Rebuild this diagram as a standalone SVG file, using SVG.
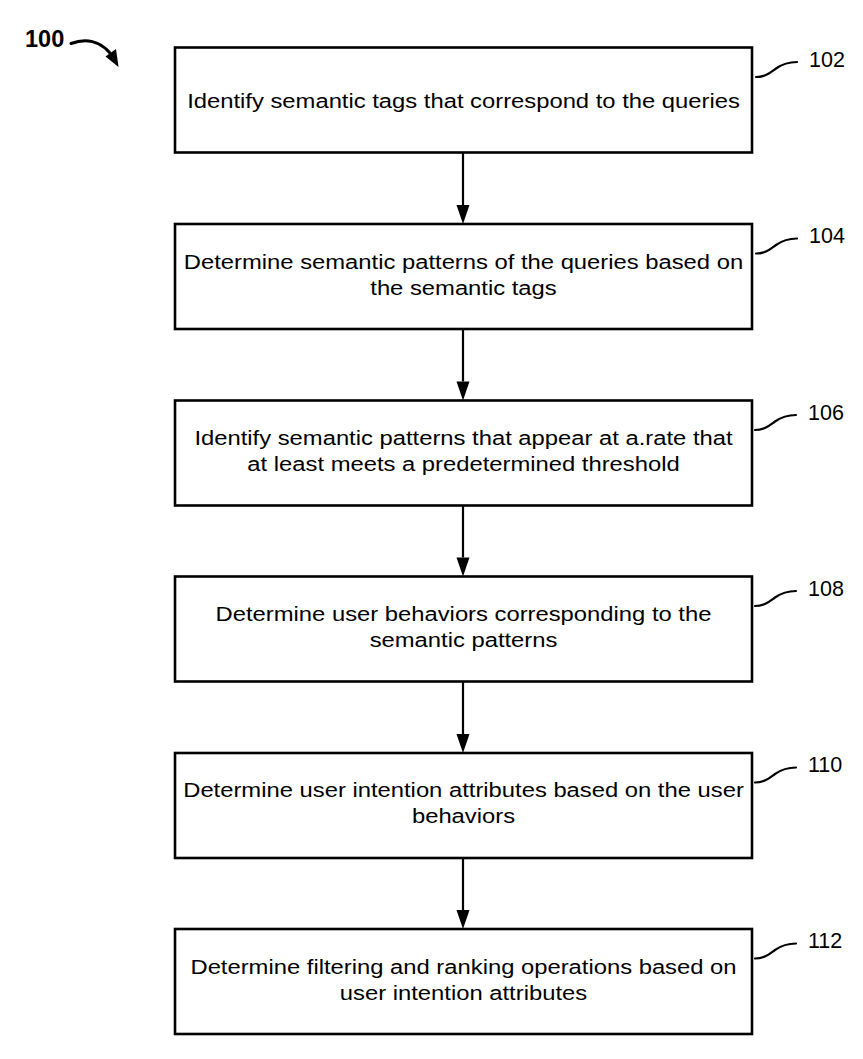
<svg xmlns="http://www.w3.org/2000/svg" width="863" height="1059" viewBox="0 0 863 1059">
<defs>
<style>
.box{fill:#fff;stroke:#000;stroke-width:2.6}
.t{font-family:"Liberation Sans",Arial,sans-serif;font-size:20px;fill:#000;text-anchor:middle}
.lbl{font-family:"Liberation Sans",Arial,sans-serif;font-size:21.5px;fill:#000}
.sq{fill:none;stroke:#000;stroke-width:2.2;stroke-linecap:round}
.conn{stroke:#000;stroke-width:2.2;fill:none}
</style>
<marker id="ah" markerUnits="userSpaceOnUse" markerWidth="14" markerHeight="20" refX="6.5" refY="19" orient="auto-start-reverse" viewBox="0 0 13 20">
<path d="M0,0 L13,0 L6.5,20 Z" fill="#000" transform="rotate(0)"/>
</marker>
</defs>
<rect width="863" height="1059" fill="#fff"/>

<g id="ref100">
<text x="25" y="46.5" font-family="'Liberation Sans',Arial,sans-serif" font-size="23.5" font-weight="bold">100</text>
<path d="M71,43.5 C86,38 100,41 110,53" fill="none" stroke="#000" stroke-width="3" stroke-linecap="round"/>
<polygon points="105.5,56.5 116,49 118.5,67" fill="#000"/>
</g>

<g id="connectors">
<line class="conn" x1="463" y1="153" x2="463" y2="205"/><polygon points="456.5,205 469.5,205 463,224"/>
<line class="conn" x1="463" y1="329.5" x2="463" y2="381.5"/><polygon points="456.5,381.5 469.5,381.5 463,400.5"/>
<line class="conn" x1="463" y1="506" x2="463" y2="557.5"/><polygon points="456.5,557.5 469.5,557.5 463,576.5"/>
<line class="conn" x1="463" y1="682" x2="463" y2="734"/><polygon points="456.5,734 469.5,734 463,753"/>
<line class="conn" x1="463" y1="858.5" x2="463" y2="910"/><polygon points="456.5,910 469.5,910 463,929"/>
</g>

<g id="n102">
<rect class="box" x="175" y="47.5" width="577" height="105"/>
<text class="t" transform="translate(463.5,107.5) scale(1.19,1)">Identify semantic tags that correspond to the queries</text>
<path class="sq" d="M756,77 C766,77 771,72 776,68.5 S789,62 797,62"/>
<text class="lbl" x="809" y="66.5">102</text>
</g>

<g id="n104">
<rect class="box" x="175" y="224" width="577" height="105"/>
<text class="t" transform="translate(463.5,268.5) scale(1.19,1)">Determine semantic patterns of the queries based on</text>
<text class="t" transform="translate(463.5,294.5) scale(1.19,1)">the semantic tags</text>
<path class="sq" d="M756,253.5 C766,253.5 771,248.5 776,245 S789,238.5 797,238.5"/>
<text class="lbl" x="809" y="243">104</text>
</g>

<g id="n106">
<rect class="box" x="175" y="400.5" width="577" height="105"/>
<text class="t" transform="translate(463.5,445) scale(1.19,1)">Identify semantic patterns that appear at a.rate that</text>
<text class="t" transform="translate(463.5,471) scale(1.19,1)">at least meets a predetermined threshold</text>
<path class="sq" d="M755,430 C765,430 770,425 775,421.5 S788,415 796,415"/>
<text class="lbl" x="808" y="419.5">106</text>
</g>

<g id="n108">
<rect class="box" x="175" y="576.5" width="577" height="105"/>
<text class="t" transform="translate(463.5,621) scale(1.19,1)">Determine user behaviors corresponding to the</text>
<text class="t" transform="translate(463.5,647) scale(1.19,1)">semantic patterns</text>
<path class="sq" d="M755,606 C765,606 770,601 775,597.5 S788,591 796,591"/>
<text class="lbl" x="808" y="595.5">108</text>
</g>

<g id="n110">
<rect class="box" x="175" y="753" width="577" height="105"/>
<text class="t" transform="translate(463.5,797) scale(1.19,1)">Determine user intention attributes based on the user</text>
<text class="t" transform="translate(463.5,823) scale(1.19,1)">behaviors</text>
<path class="sq" d="M755,782.5 C765,782.5 770,777.5 775,774 S788,767.5 796,767.5"/>
<text class="lbl" x="808" y="772">110</text>
</g>

<g id="n112">
<rect class="box" x="175" y="929" width="577" height="105"/>
<text class="t" transform="translate(463.5,973.5) scale(1.19,1)">Determine filtering and ranking operations based on</text>
<text class="t" transform="translate(463.5,999.5) scale(1.19,1)">user intention attributes</text>
<path class="sq" d="M755,958.5 C765,958.5 770,953.5 775,950 S788,943.5 796,943.5"/>
<text class="lbl" x="808" y="948">112</text>
</g>
</svg>
